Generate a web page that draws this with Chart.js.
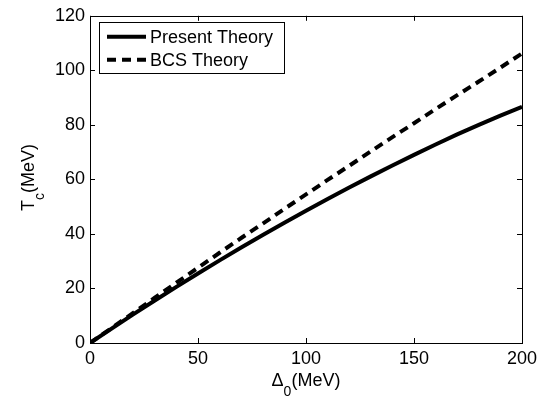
<!DOCTYPE html>
<html>
<head>
<meta charset="utf-8">
<title>Tc vs Delta0</title>
<script src="https://cdn.jsdelivr.net/npm/chart.js@4.4.0/dist/chart.umd.min.js"></script>
<style>
  html, body { margin: 0; padding: 0; background: #fff; }
  #chart { display: block; }
</style>
</head>
<body>
<canvas id="chart" width="558" height="401"></canvas>
<script>
// Delta_0 (MeV) sample points
const deltaValues = [0, 10, 20, 30, 40, 50, 60, 70, 80, 90, 100, 110, 120, 130, 140, 150, 160, 170, 180, 190, 200]
// Tc (MeV)
const presentTheory = [0, 5.3, 10.5, 15.6, 20.6, 25.5, 30.3, 35.0, 39.6, 44.1, 48.5, 52.8, 57.0, 61.1, 65.1, 69.0, 72.8, 76.5, 80.0, 83.4, 86.6]
const bcsTheory = [0, 5.5, 11.0, 16.6, 22.1, 27.6, 33.1, 38.5, 43.8, 49.2, 54.5, 59.8, 65.0, 70.3, 75.5, 80.6, 85.8, 90.9, 95.9, 101.0, 106.2]
const seriesNames = ['Present Theory', 'BCS Theory']
const xTicks = [0, 50, 100, 150, 200]
const yTicks = [0, 20, 40, 60, 80, 100, 120]

const FONT = 'Liberation Sans, Arial, Helvetica, sans-serif'

const toPoints = (ys) => deltaValues.map((x, i) => ({ x: x, y: ys[i] }))

// frame, inward ticks, legend and axis titles (MATLAB look)
const matlabDecor = {
  id: 'matlabDecor',
  afterDraw(chart) {
    const ctx = chart.ctx
    const area = chart.chartArea
    const xs = chart.scales.x
    const ys = chart.scales.y
    const tick = 5

    ctx.save()
    ctx.strokeStyle = '#000'
    ctx.lineWidth = 1
    ctx.strokeRect(Math.round(area.left) + 0.5, Math.round(area.top) + 0.5,
      Math.round(area.right - area.left), Math.round(area.bottom - area.top))

    ctx.beginPath()
    xTicks.forEach(v => {
      const px = Math.round(xs.getPixelForValue(v)) + 0.5
      ctx.moveTo(px, area.bottom); ctx.lineTo(px, area.bottom - tick)
      ctx.moveTo(px, area.top); ctx.lineTo(px, area.top + tick)
    })
    yTicks.forEach(v => {
      const py = Math.round(ys.getPixelForValue(v)) + 0.5
      ctx.moveTo(area.left, py); ctx.lineTo(area.left + tick, py)
      ctx.moveTo(area.right, py); ctx.lineTo(area.right - tick, py)
    })
    ctx.stroke()

    // legend
    const lx = area.left + 9, ly = area.top + 6, lw = 185, lh = 51
    ctx.fillStyle = '#fff'
    ctx.fillRect(lx, ly, lw, lh)
    ctx.strokeRect(Math.round(lx) + 0.5, Math.round(ly) + 0.5, lw, lh)
    const rows = [ly + 15, ly + 38]
    chart.data.datasets.forEach((ds, i) => {
      ctx.beginPath()
      ctx.lineWidth = ds.borderWidth
      ctx.setLineDash(ds.borderDash || [])
      ctx.moveTo(lx + 8, rows[i])
      ctx.lineTo(lx + 47, rows[i])
      ctx.stroke()
      ctx.setLineDash([])
      ctx.fillStyle = '#000'
      ctx.font = '18px ' + FONT
      ctx.textBaseline = 'middle'
      ctx.textAlign = 'left'
      ctx.fillText(ds.label, lx + 51, rows[i] + 1)
    })

    // x title: Delta_0(MeV)
    ctx.fillStyle = '#000'
    ctx.textBaseline = 'alphabetic'
    ctx.textAlign = 'left'
    const mainFont = '18px ' + FONT
    const subFont = '14px ' + FONT
    const drawSub = (base, sub, rest, cx, cy) => {
      ctx.font = mainFont
      const w1 = ctx.measureText(base).width
      const w3 = ctx.measureText(rest).width
      ctx.font = subFont
      const w2 = ctx.measureText(sub).width
      let x0 = cx - (w1 + w2 + w3) / 2
      ctx.font = mainFont
      ctx.fillText(base, x0, cy)
      ctx.font = subFont
      ctx.fillText(sub, x0 + w1, cy + 10)
      ctx.font = mainFont
      ctx.fillText(rest, x0 + w1 + w2, cy)
    }
    drawSub('\u0394', '0', '(MeV)', (area.left + area.right) / 2, 386)

    // y title: T_c(MeV)
    ctx.translate(34, (area.top + area.bottom) / 2 - 2)
    ctx.rotate(-Math.PI / 2)
    drawSub('T', 'c', '(MeV)', 0, 0)
    ctx.restore()
  }
}

new Chart(document.getElementById('chart'), {
  type: 'scatter',
  data: {
    datasets: [
      {
        label: seriesNames[0],
        data: toPoints(presentTheory),
        showLine: true,
        borderColor: '#000',
        borderWidth: 4,
        pointRadius: 0,
        fill: false
      },
      {
        label: seriesNames[1],
        data: toPoints(bcsTheory),
        showLine: true,
        borderColor: '#000',
        borderWidth: 4,
        borderDash: [9, 6],
        pointRadius: 0,
        fill: false
      }
    ]
  },
  options: {
    responsive: false,
    animation: false,
    devicePixelRatio: 1,
    layout: { padding: { left: 0, top: 11, right: 36, bottom: 0 } },
    plugins: {
      legend: { display: false },
      tooltip: { enabled: false }
    },
    scales: {
      x: {
        type: 'linear',
        min: 0,
        max: 200,
        afterFit: (scale) => { scale.height = 58 },
        afterBuildTicks: (scale) => { scale.ticks = xTicks.map(v => ({ value: v })) },
        ticks: { color: '#000', font: { family: FONT, size: 18 }, padding: 5, maxRotation: 0 },
        grid: { display: false, drawTicks: false },
        border: { display: false }
      },
      y: {
        type: 'linear',
        min: 0,
        max: 120,
        afterFit: (scale) => { scale.width = 90 },
        afterBuildTicks: (scale) => { scale.ticks = yTicks.map(v => ({ value: v })) },
        ticks: { color: '#000', font: { family: FONT, size: 18 }, padding: 5 },
        grid: { display: false, drawTicks: false },
        border: { display: false }
      }
    }
  },
  plugins: [matlabDecor]
})
</script>
</body>
</html>
